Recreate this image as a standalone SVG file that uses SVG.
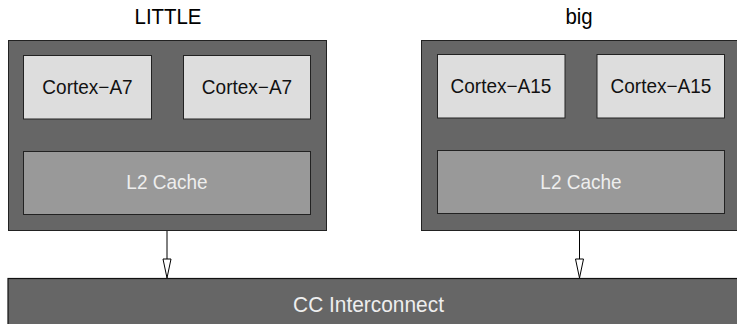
<svg xmlns="http://www.w3.org/2000/svg" width="737" height="324" viewBox="0 0 737 324">
  <defs>
    <style>
      .cluster { fill: #666666; stroke: #222222; stroke-width: 1; }
      .core { fill: #dddddd; stroke: #222222; stroke-width: 1; }
      .cache { fill: #999999; stroke: #222222; stroke-width: 1; }
      .bus { fill: #666666; stroke: #111111; stroke-width: 1.2; }
      text { font-family: "Liberation Sans", Arial, sans-serif; text-anchor: middle; }
      .title { font-size: 21.5px; fill: #000000; }
      .coreText { font-size: 20px; fill: #111111; }
      .cacheText { font-size: 20px; fill: #eeeeee; }
      .busText { font-size: 22px; fill: #eeeeee; }
      .conn { stroke: #000000; stroke-width: 1; fill: none; }
      .head { fill: #ffffff; stroke: #000000; stroke-width: 1; }
    </style>
  </defs>

  <g id="little-cluster">
    <rect class="cluster" x="8.5" y="40.5" width="318" height="190"/>
    <text class="title" transform="translate(168,24) scale(0.95,1)">LITTLE</text>
  </g>
  <g id="little-core1">
    <rect class="core" x="23.5" y="55.5" width="128" height="63.5"/>
    <text class="coreText" transform="translate(87.5,94.3) scale(0.95,1)">Cortex−A7</text>
  </g>
  <g id="little-core2">
    <rect class="core" x="183.5" y="55.5" width="127" height="63.5"/>
    <text class="coreText" transform="translate(247,94.3) scale(0.95,1)">Cortex−A7</text>
  </g>
  <g id="little-l2">
    <rect class="cache" x="23.5" y="151.5" width="287" height="63"/>
    <text class="cacheText" transform="translate(167,189.3) scale(0.95,1)">L2 Cache</text>
  </g>

  <g id="big-cluster">
    <rect class="cluster" x="421.5" y="40.5" width="318" height="190"/>
    <text class="title" transform="translate(579,24) scale(0.95,1)">big</text>
  </g>
  <g id="big-core1">
    <rect class="core" x="437.5" y="54.5" width="127.5" height="63.5"/>
    <text class="coreText" transform="translate(501,93.3) scale(0.95,1)">Cortex−A15</text>
  </g>
  <g id="big-core2">
    <rect class="core" x="597" y="54.5" width="127.5" height="63.5"/>
    <text class="coreText" transform="translate(661,93.3) scale(0.95,1)">Cortex−A15</text>
  </g>
  <g id="big-l2">
    <rect class="cache" x="437.5" y="150.5" width="287" height="63"/>
    <text class="cacheText" transform="translate(581,189.3) scale(0.95,1)">L2 Cache</text>
  </g>

  <g id="cc-interconnect">
    <rect class="bus" x="8" y="278.5" width="740" height="60"/>
    <text class="busText" transform="translate(368.5,311.7) scale(0.95,1)">CC Interconnect</text>
  </g>

  <g id="connectors">
    <line class="conn" x1="167" y1="231" x2="167" y2="259"/>
    <polygon class="head" points="163,259 171,259 167,278"/>
    <line class="conn" x1="579.5" y1="231" x2="579.5" y2="259"/>
    <polygon class="head" points="575.5,259 583.5,259 579.5,278"/>
  </g>
</svg>
